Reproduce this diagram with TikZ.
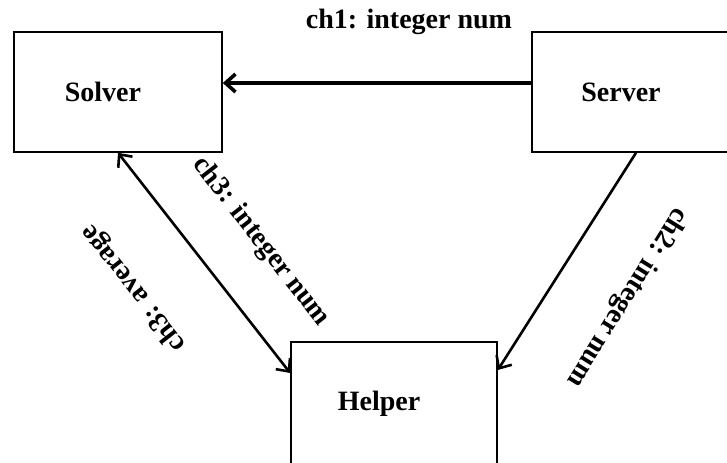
\documentclass[tikz,border=0pt]{standalone}
\usepackage{fontspec}
\setmainfont{Liberation Serif}
\usetikzlibrary{arrows.meta}

\begin{document}
\begin{tikzpicture}[x=0.5pt, y=-0.5pt,
        >={Straight Barb[length=5pt,width=9pt]},
        box/.style={draw, rectangle, line width=0.8pt, minimum width=104pt, minimum height=60pt,
            font=\bfseries\fontsize{14}{16}\selectfont, execute at end node={\hspace*{15pt}}},
        lbl/.style={font=\bfseries\fontsize{14}{16}\selectfont, inner sep=0pt}]
        \clip (0,0) rectangle (727,462);

        \node[box] (solver) at (118,92) {Solver};
        \node[box] (server) at (636,92) {Server};
        \node[box, minimum width=103pt, minimum height=62pt] (helper) at (394,404) {Helper};

        \draw[->, line width=1.8pt] ([yshift=4.5pt]server.west) -- ([yshift=4.5pt]solver.east);
        \draw[<->, line width=1.3pt] (solver.south) -- ([yshift=15.5pt]helper.west);
        \draw[->, line width=1.3pt] (server.south) -- ([yshift=17pt]helper.east);

        \node[lbl] (ch1int) at (409,22) {ch1: integer num};
        \node[lbl, rotate=-52] (ch3int) at (261,242) {ch3: integer num};
        \node[lbl, rotate=128] (ch3avg) at (134,288) {ch3: average};
        \node[lbl, rotate=-122] (ch2int) at (627,297) {ch2: integer num};
    \end{tikzpicture}
\end{document}
